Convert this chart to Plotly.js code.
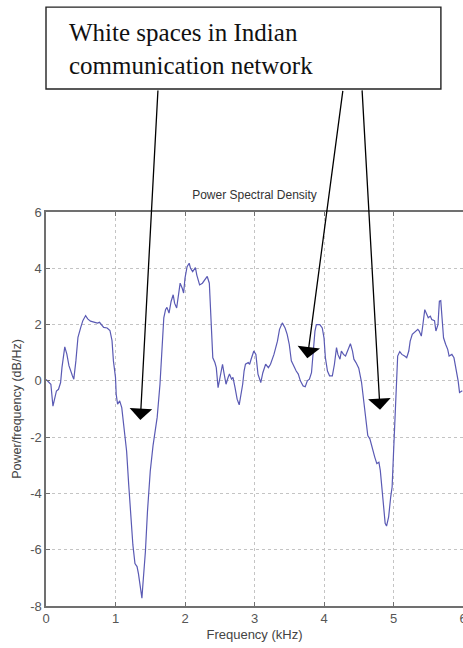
<!DOCTYPE html>
<html>
<head>
<meta charset="utf-8">
<script src="https://cdn.plot.ly/plotly-3.0.1.min.js"></script>
<style>
html,body{margin:0;padding:0;background:#fff;overflow:hidden;}
#chart{width:463px;height:648px;}
</style>
</head>
<body>
<div id="chart"></div>
<script>
// Frequency (kHz)
const freq = [
0.00,0.03,0.07,0.10,0.13,0.15,0.18,0.21,0.23,0.27,0.30,0.33,0.38,0.40,0.43,0.46,0.50,0.53,0.57,0.60,
0.64,0.69,0.74,0.77,0.81,0.83,0.88,0.92,0.95,0.97,1.00,1.01,1.03,1.06,1.09,1.12,1.16,1.19,1.22,1.25,
1.28,1.31,1.33,1.36,1.38,1.39,1.43,1.46,1.50,1.54,1.57,1.60,1.64,1.68,1.695,1.72,1.74,1.77,1.80,1.83,
1.85,1.88,1.91,1.93,1.96,1.98,2.00,2.03,2.06,2.08,2.11,2.13,2.15,2.17,2.21,2.25,2.28,2.32,2.35,2.37,
2.385,2.40,2.43,2.45,2.476,2.50,2.52,2.54,2.56,2.59,2.62,2.64,2.67,2.69,2.72,2.75,2.78,2.80,2.83,2.85,
2.87,2.91,2.93,2.95,2.99,3.02,3.05,3.09,3.12,3.16,3.20,3.23,3.28,3.33,3.36,3.40,3.44,3.47,3.50,3.53,
3.57,3.60,3.63,3.66,3.70,3.73,3.76,3.79,3.82,3.84,3.87,3.89,3.94,3.975,4.00,4.02,4.05,4.08,4.12,4.15,
4.18,4.20,4.23,4.25,4.28,4.31,4.34,4.38,4.41,4.43,4.46,4.50,4.54,4.56,4.58,4.61,4.63,4.66,4.69,4.73,
4.76,4.79,4.81,4.83,4.86,4.88,4.90,4.93,4.96,4.98,5.00,5.02,5.04,5.06,5.09,5.12,5.16,5.19,5.22,5.24,
5.27,5.30,5.33,5.35,5.37,5.40,5.42,5.45,5.48,5.50,5.53,5.55,5.59,5.61,5.64,5.66,5.68,5.70,5.72,5.75,
5.78,5.80,5.84,5.87,5.90,5.93,5.95,5.99
];
// Power/frequency (dB/Hz)
const psd = [
0.05,-0.02,-0.12,-0.90,-0.60,-0.36,-0.30,-0.06,0.48,1.21,0.95,0.54,0.18,0.06,0.71,1.55,1.90,2.14,2.32,2.20,
2.12,2.08,2.05,2.08,1.96,1.90,1.88,1.79,1.43,0.71,0.12,-0.48,-0.83,-0.71,-0.95,-1.55,-2.50,-3.69,-4.88,-5.83,
-6.49,-6.60,-6.85,-7.38,-7.72,-7.38,-6.07,-4.64,-3.21,-2.30,-1.76,-1.29,-0.12,1.53,2.24,2.53,2.61,2.41,2.82,3.06,
2.76,2.59,3.18,3.47,3.29,3.12,3.65,4.06,4.18,4.00,3.88,3.98,4.02,3.76,3.41,3.47,3.59,3.71,3.47,2.47,
1.53,0.82,0.65,0.47,-0.24,0.06,0.35,0.59,0.29,-0.12,0.12,0.24,0.06,0.12,-0.24,-0.65,-0.85,-0.59,-0.12,0.35,
0.59,0.65,0.59,0.76,1.06,0.94,0.24,-0.06,0.29,0.59,0.47,0.59,0.94,1.41,1.83,2.06,1.88,1.65,1.30,0.71,
0.47,0.35,0.24,0.00,-0.18,-0.21,0.00,0.06,0.29,0.94,1.77,2.00,2.00,1.88,1.53,0.82,0.35,0.18,0.18,0.59,
1.18,0.94,0.77,1.06,0.94,0.88,1.06,1.32,1.06,0.77,0.65,0.45,-0.05,-0.45,-1.06,-1.53,-1.94,-2.06,-2.36,-2.71,
-2.94,-2.89,-3.18,-3.77,-4.48,-5.06,-5.16,-4.83,-4.12,-3.77,-2.59,-1.18,0.12,0.88,1.04,0.94,0.88,0.82,1.06,1.41,
1.65,1.71,1.79,1.83,1.77,1.59,1.94,2.53,2.36,2.24,2.30,2.18,2.14,1.77,2.00,2.83,2.85,2.24,1.53,1.30,
1.12,0.88,0.94,0.82,0.47,0.00,-0.41,-0.35
];
const xTicks = [0,1,2,3,4,5,6];
const yTicks = [-8,-6,-4,-2,0,2,4,6];
const chartTitle = "Power Spectral Density";
const xLabel = "Frequency (kHz)";
const yLabel = "Power/frequency (dB/Hz)";
const calloutText = "White spaces in Indian<br>communication network";
// arrow tips (data coordinates) of the call-out
const arrowTipX = [1.357, 3.76, 4.806];
const arrowTipY = [-1.39, 0.80, -1.03];

const axisFont = {family: "'Liberation Sans Narrow', 'Liberation Sans', Arial, sans-serif", size: 13, color: "#555"};

// tail offsets in pixels from each tip up to the box bottom
const tails = [[17.7, -331], [35.7, -269], [-18, -321]];

const annotations = [{
  xref: "paper", yref: "paper", x: 0.05, y: 1.414, xanchor: "left", yanchor: "middle",
  align: "left", showarrow: false, text: calloutText,
  font: {family: "'Liberation Serif', 'DejaVu Serif', serif", size: 25, color: "#111"}
}];
arrowTipX.forEach((ax, i) => {
  annotations.push({
    xref: "x", yref: "y", x: ax, y: arrowTipY[i], text: "",
    showarrow: true, arrowhead: 1, arrowsize: 2.9, arrowwidth: 1.3, arrowcolor: "#000",
    ax: tails[i][0], ay: tails[i][1], standoff: 0
  });
});

const layout = {
  width: 463, height: 648,
  margin: {l: 46, r: 0, t: 212, b: 42},
  paper_bgcolor: "#fff", plot_bgcolor: "#fff",
  showlegend: false,
  title: {text: chartTitle, xref: "paper", x: 0.5, xanchor: "center", yref: "container", y: 1 - 195/648, yanchor: "middle",
          font: {family: "'Liberation Sans Narrow', 'Liberation Sans', Arial, sans-serif", size: 12, color: "#333"}},
  xaxis: {
    range: [0, 6], tickvals: xTicks, ticktext: xTicks.map(String),
    showgrid: true, gridcolor: "#c4c4c4", griddash: "dot", gridwidth: 1,
    zeroline: false, showline: true, linecolor: "#707070", linewidth: 1.6, mirror: "ticks",
    ticks: "inside", ticklen: 4, tickcolor: "#707070",
    tickfont: axisFont, ticklabeloverflow: "allow",
    title: {text: xLabel, font: {family: "'Liberation Sans Narrow', 'Liberation Sans', Arial, sans-serif", size: 13, color: "#444"}, standoff: 4}
  },
  yaxis: {
    range: [-8, 6], tickvals: yTicks, ticktext: yTicks.map(String),
    showgrid: true, gridcolor: "#c4c4c4", griddash: "dot", gridwidth: 1,
    zeroline: false, showline: true, linecolor: "#707070", linewidth: 1.6, mirror: false,
    ticks: "inside", ticklen: 4, tickcolor: "#707070",
    tickfont: axisFont, ticklabelstandoff: 0,
    title: {text: yLabel, font: {family: "'Liberation Sans Narrow', 'Liberation Sans', Arial, sans-serif", size: 12.5, color: "#444"}, standoff: 6}
  },
  shapes: [{
    type: "rect", xref: "paper", yref: "paper", x0: 0.0, x1: 0.947, y0: 1.312, y1: 1.520,
    line: {color: "#222", width: 1.4}, fillcolor: "rgba(0,0,0,0)", layer: "above"
  }],
  annotations: annotations
};

const data = [{
  type: "scatter", mode: "lines", x: freq, y: psd,
  line: {color: "#5a5ab4", width: 1.2}, hoverinfo: "skip"
}];

Plotly.newPlot("chart", data, layout, {staticPlot: true, displayModeBar: false});
</script>
</body>
</html>
